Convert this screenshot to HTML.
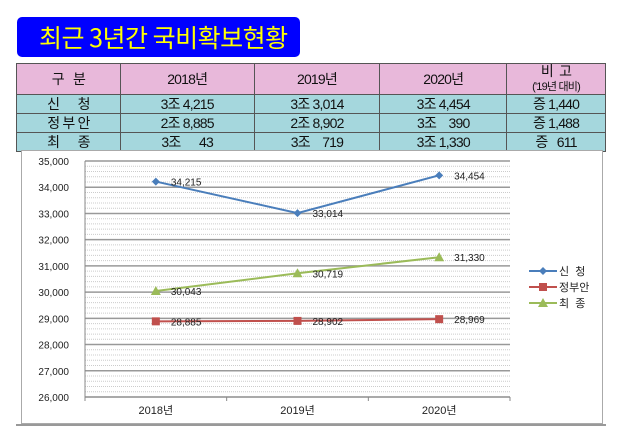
<!DOCTYPE html>
<html><head><meta charset="utf-8">
<style>
body{margin:0;width:640px;height:446px;background:#fff;position:relative;overflow:hidden;font-family:"Liberation Sans","Noto Sans CJK KR",sans-serif;}
#title{position:absolute;left:17px;top:17px;width:283px;height:40px;background:#0000ff;border-radius:5px;color:#ffff00;font-size:25px;line-height:40px;text-indent:22px;letter-spacing:-0.5px;font-family:"Noto Sans CJK KR",sans-serif;}
table{position:absolute;left:16px;top:63px;width:590px;border-collapse:collapse;font-family:"Liberation Sans","Noto Sans CJK KR",sans-serif;font-size:14px;letter-spacing:-0.8px;}
td{border:1px solid #555;border-left:1px solid #555;text-align:center;padding:0;color:#111;}
tr.h td{background:#e8b8da;height:30px;}
tr.r td{background:#a5d7dd;height:18px;line-height:17px;}
#chart{position:absolute;left:0;top:0;}
</style></head><body>
<div id="title">최근 3년간 국비확보현황</div>
<table>
<colgroup><col style="width:104px"><col style="width:134px"><col style="width:126px"><col style="width:127px"><col style="width:99px"></colgroup>
<tr class="h"><td>구&nbsp;&nbsp;&nbsp;분</td><td>2018년</td><td>2019년</td><td>2020년</td><td style="line-height:14px">비&nbsp;&nbsp;고<br><span style="font-size:11px">('19년 대비)</span></td></tr>
<tr class="r"><td>신&nbsp;&nbsp;&nbsp;&nbsp;&nbsp;&nbsp;청</td><td>3조 4,215</td><td>3조 3,014</td><td>3조 4,454</td><td>증 1,440</td></tr>
<tr class="r"><td>정&nbsp;부&nbsp;안</td><td>2조 8,885</td><td>2조 8,902</td><td>3조&nbsp;&nbsp;&nbsp;&nbsp;390</td><td>증 1,488</td></tr>
<tr class="r"><td>최&nbsp;&nbsp;&nbsp;&nbsp;&nbsp;&nbsp;종</td><td>3조&nbsp;&nbsp;&nbsp;&nbsp;&nbsp;&nbsp;43</td><td>3조&nbsp;&nbsp;&nbsp;&nbsp;719</td><td>3조 1,330</td><td>증&nbsp;&nbsp;&nbsp;611</td></tr>
</table>
<svg id="chart" width="640" height="446" xmlns="http://www.w3.org/2000/svg"></svg>
<script>
const categories=["2018년","2019년","2020년"];
const seriesNames=["신  청","정부안","최  종"];
const sApply=[34215,33014,34454];
const sGov=[28885,28902,28969];
const sFinal=[30043,30719,31330];
const yTicks=[26000,27000,28000,29000,30000,31000,32000,33000,34000,35000];
const NS="http://www.w3.org/2000/svg";
const svg=document.getElementById('chart');
const L=85,R=510,T=161,B=397,ymin=26000,ymax=35000;
const y=v=>B-(v-ymin)/(ymax-ymin)*(B-T);
const x=i=>L+(R-L)/categories.length*(i+0.5);
function mk(t,a,p){const e=document.createElementNS(NS,t);for(const k in a)e.setAttribute(k,a[k]);(p||svg).appendChild(e);return e;}
const frame=mk('rect',{x:21.5,y:150.5,width:581,height:273,fill:'#fff',stroke:'#aaa'});


const sh=mk('line',{x1:16,y1:425,x2:606,y2:425,stroke:'#999','stroke-width':2});


for(let v=ymin;v<=ymax;v+=200){
 const major=v%1000===0;
 const g=mk('line',{x1:L,x2:R,y1:y(v),y2:y(v),stroke:major?'#999':'#ccc','stroke-width':major?1.5:1,'stroke-dasharray':major?'':'1,1'});
 
 
}
yTicks.forEach(v=>{
 const t=mk('text',{x:69,y:y(v)+4,'text-anchor':'end','font-size':10,fill:'#222'});
 t.textContent=v.toLocaleString('en-US');
 
 
});
const ax=mk('line',{x1:L,x2:L,y1:T,y2:B,stroke:'#888'});


const bx=mk('line',{x1:L,x2:R,y1:B,y2:B,stroke:'#888'});


for(let i=0;i<=categories.length;i++){const tk=mk('line',{x1:L+(R-L)/3*i,x2:L+(R-L)/3*i,y1:B,y2:B+4,stroke:'#888'});
 
 }
categories.forEach((c,i)=>{const t=mk('text',{x:x(i),y:414,'text-anchor':'middle','font-size':11,fill:'#222'});t.textContent=c;
 
 });
const cfg=[[sApply,'#4a7ebb','diamond'],[sGov,'#c0504d','square'],[sFinal,'#9bbb59','triangle']];
function marker(type,cx,cy,col){
 if(type==='diamond')return mk('path',{d:`M${cx} ${cy-4}L${cx+4} ${cy}L${cx} ${cy+4}L${cx-4} ${cy}Z`,fill:col});
 if(type==='square')return mk('rect',{x:cx-4,y:cy-4,width:8,height:8,fill:col});
 return mk('path',{d:`M${cx} ${cy-5}L${cx+5} ${cy+4}L${cx-5} ${cy+4}Z`,fill:col});
}
cfg.forEach(([d,col,m],si)=>{
 const pl=mk('polyline',{points:d.map((v,i)=>x(i)+','+y(v)).join(' '),fill:'none',stroke:col,'stroke-width':2});
 
 
 d.forEach((v,i)=>{
  const mm=marker(m,x(i),y(v),col);
  
  
  const t=mk('text',{x:x(i)+15,y:y(v)+4,'font-size':10,fill:'#222'});
  t.textContent=v.toLocaleString('en-US');
  
  
 });
 const ly=271+si*16;
 const ll=mk('line',{x1:529,x2:557,y1:ly,y2:ly,stroke:col,'stroke-width':2});
 
 
 const lm=marker(m,543,ly,col);
 
 
 const lt=mk('text',{x:559,y:ly+4,'font-size':11,fill:'#222','xml:space':'preserve'});
 lt.setAttribute('style','white-space:pre');
 lt.textContent=seriesNames[si];
 
 
});
</script>
</body></html>
